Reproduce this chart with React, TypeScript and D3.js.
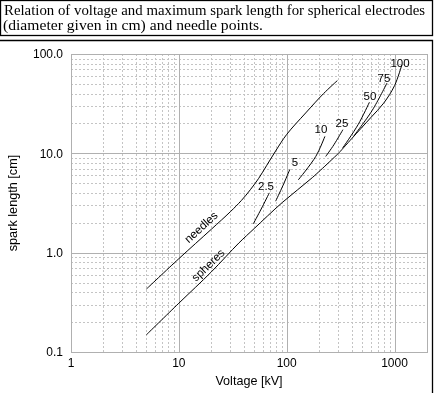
import React from "react";
import * as d3 from "d3";

const titleLines = [
  "Relation of voltage and maximum spark length for spherical electrodes",
  "(diameter given in cm) and needle points.",
];
const xTicks = [1, 10, 100, 1000];
const xTickLabels = ["1", "10", "100", "1000"];
const yTicks = [0.1, 1, 10, 100];
const yTickLabels = ["0.1", "1.0", "10.0", "100.0"];

// [voltage kV, spark length cm]
const needles: [number, number][] = [
  [5, 0.43], [10, 0.87], [20, 1.72], [30, 2.58], [38, 3.35], [46, 4.3],
  [55, 5.6], [65, 7.5], [80, 10.8], [100, 15.5], [150, 25.5], [220, 40], [295, 54],
];
const spheres: [number, number][] = [
  [5, 0.149], [10, 0.31], [20, 0.64], [36, 1.25], [50, 1.75], [91, 3.2],
  [173, 5.7], [305, 10.1],
];
const sphereCurves: { label: string; pts: [number, number][]; lx: number; ly: number }[] = [
  { label: "2.5", pts: [[49, 1.95], [58, 2.75], [69, 4.0]], lx: 266, ly: 190 },
  { label: "5", pts: [[79, 3.3], [92, 4.7], [107, 6.9]], lx: 295, ly: 166 },
  { label: "10", pts: [[128, 5.4], [186, 9.3], [226, 14.8]], lx: 321, ly: 133 },
  { label: "25", pts: [[230, 9.3], [274, 12.2], [332, 17.3]], lx: 342, ly: 127 },
  { label: "50", pts: [[330, 11.3], [460, 19.5], [585, 32.7]], lx: 370, ly: 100 },
  { label: "75", pts: [[420, 15], [620, 27], [851, 51]], lx: 384, ly: 82 },
  { label: "100", pts: [[305, 10.1], [404, 14.2], [598, 22.7], [793, 32], [1000, 48], [1170, 78]], lx: 400, ly: 67 },
];

const W = 436;
const H = 393;
const left = 71, right = 427, top = 54, bottom = 352;

export default function App() {
  const x = d3.scaleLog().domain([1, 2000]).range([left, right]);
  const y = d3.scaleLog().domain([0.1, 100]).range([bottom, top]);
  const line = d3
    .line<[number, number]>()
    .x((d) => x(d[0]))
    .y((d) => y(d[1]))
    .curve(d3.curveCatmullRom.alpha(0.5));

  const xMinor: number[] = [];
  for (let e = 0; e < 4; e++)
    for (let k = 2; k <= 9; k++) {
      const v = k * Math.pow(10, e);
      if (v < 2000) xMinor.push(v);
    }
  const yMinor: number[] = [];
  for (let e = -1; e < 2; e++)
    for (let k = 2; k <= 9; k++) yMinor.push(k * Math.pow(10, e));

  const sans = "'Liberation Sans', Arial, Helvetica, sans-serif";
  const serif = "'Liberation Serif', 'Times New Roman', serif";

  return (
    <svg width={W} height={H} style={{ position: "absolute", left: 0, top: 0, willChange: "transform" }}>
      <rect x={0} y={0} width={W} height={H} fill="#fff" />
      {/* title box */}
      <rect x={0.5} y={0.5} width={432} height={35} fill="none" stroke="#000" strokeWidth={1.3} />
      {titleLines.map((t, i) => (
        <text key={i} x={i === 0 ? 4 : 3} y={i === 0 ? 15.3 : 29.5} fontFamily={serif} fontSize={14}
          textLength={i === 0 ? 421 : 260} lengthAdjust="spacingAndGlyphs" fill="#000">
          {t}
        </text>
      ))}
      {/* chart box */}
      <path d={`M0,40.5H432.5V${H}`} fill="none" stroke="#000" strokeWidth={1.3} />

      {/* minor grid */}
      <g stroke="#c4c4c4" strokeWidth={1} strokeDasharray="2,2" fill="none">
        {xMinor.map((v) => (
          <line key={"xm" + v} x1={Math.round(x(v)) + 0.5} x2={Math.round(x(v)) + 0.5} y1={top} y2={bottom} />
        ))}
        {yMinor.map((v) => (
          <line key={"ym" + v} y1={Math.round(y(v)) + 0.5} y2={Math.round(y(v)) + 0.5} x1={left} x2={right} />
        ))}
      </g>
      {/* major grid */}
      <g stroke="#b0b0b0" strokeWidth={1} fill="none">
        {xTicks.map((v) => (
          <line key={"xM" + v} x1={Math.round(x(v)) + 0.5} x2={Math.round(x(v)) + 0.5} y1={top} y2={bottom} />
        ))}
        {yTicks.map((v) => (
          <line key={"yM" + v} y1={Math.round(y(v)) + 0.5} y2={Math.round(y(v)) + 0.5} x1={left} x2={right} />
        ))}
        <rect x={left + 0.5} y={top + 0.5} width={right - left} height={bottom - top} />
      </g>

      {/* tick labels */}
      <g fontFamily={sans} fontSize={12} fill="#000">
        {xTicks.map((v, i) => (
          <text key={"xl" + v} x={x(v)} y={367} textAnchor="middle">{xTickLabels[i]}</text>
        ))}
        {yTicks.map((v, i) => (
          <text key={"yl" + v} x={63} y={y(v) + 4.3} textAnchor="end">{yTickLabels[i]}</text>
        ))}
        <text x={(left + right) / 2} y={385} fontSize={12.6} textAnchor="middle">Voltage [kV]</text>
        <text transform={`translate(17,${(top + bottom) / 2}) rotate(-90)`} fontSize={12.7} textAnchor="middle">spark length [cm]</text>
      </g>

      {/* curves */}
      <g fill="none" stroke="#000" strokeWidth={1}>
        <path d={line(needles) || ""} />
        <path d={line(spheres) || ""} />
        {sphereCurves.map((c) => (
          <path key={c.label} d={line(c.pts) || ""} />
        ))}
      </g>
      <g fontFamily={sans} fontSize={11.5} fill="#000">
        {sphereCurves.map((c) => (
          <text key={"l" + c.label} x={c.lx} y={c.ly} textAnchor="middle">{c.label}</text>
        ))}
        <text transform="translate(201,227) rotate(-42)" textAnchor="middle" dominantBaseline="central">needles</text>
        <text transform="translate(208,265) rotate(-44)" textAnchor="middle" dominantBaseline="central">spheres</text>
      </g>
    </svg>
  );
}
